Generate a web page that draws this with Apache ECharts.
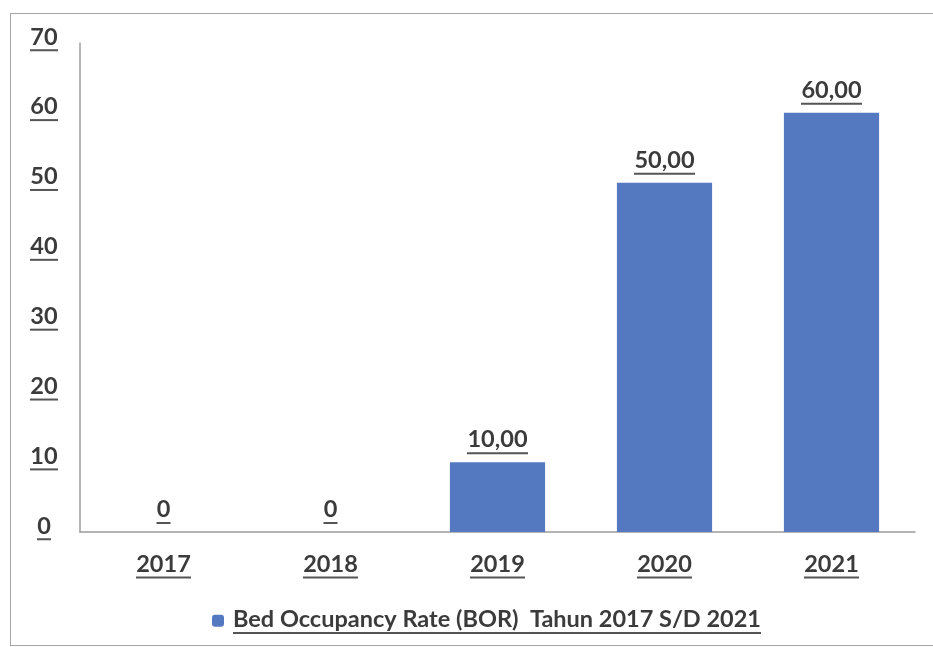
<!DOCTYPE html>
<html>
<head>
<meta charset="utf-8">
<script src="https://cdn.jsdelivr.net/npm/echarts@6/dist/echarts.min.js"></script>
<style>
  html, body { margin: 0; padding: 0; background: #fff; }
  #frame { position: absolute; left: 10px; top: 13px; width: 960px; height: 631px; border: 1.5px solid #a4a4a4; border-right: none; }
  #chart { position: absolute; left: 0; top: 0; width: 933px; height: 647px; }
</style>
</head>
<body>
<div id="frame"></div>
<div id="chart"></div>
<script>
// Bed Occupancy Rate per year
const years = ['2017', '2018', '2019', '2020', '2021'];
const borValues = [0, 0, 10, 50, 60];
const seriesName = 'Bed Occupancy Rate (BOR)  Tahun 2017 S/D 2021';
const yTicks = [0, 10, 20, 30, 40, 50, 60, 70];

const textColor = '#3b3b3b';
const barColor = '#5479c0';
const fontFamily = 'Lato';
const labelSize = 23.5;
const legendSize = 23.5;

// Underlined text: each distinct string gets its own rule style sized to the measured text width
const measureCtx = document.createElement('canvas').getContext('2d');
const rich = {};
const styleKeys = {};
let keyCount = 0;
function underlined(s, size) {
  const id = size + '|' + s;
  if (!styleKeys[id]) {
    const k = 'k' + (keyCount++);
    styleKeys[id] = k;
    measureCtx.font = 'bold ' + size + 'px ' + fontFamily;
    const w = Math.ceil(measureCtx.measureText(s).width);
    rich['t' + k] = { fontSize: size, fontWeight: 'bold', color: textColor, fontFamily: fontFamily, lineHeight: size + 1 };
    rich['u' + k] = { width: w, height: 2, lineHeight: 2, backgroundColor: '#555555' };
  }
  const k = styleKeys[id];
  return '{t' + k + '|' + s + '}\n{u' + k + '|}';
}

// pre-register every string so the shared rich map is complete before rendering
const valueText = v => v === 0 ? '0' : v.toFixed(2).replace('.', ',');
years.forEach(y => underlined(y, labelSize));
yTicks.forEach(v => underlined(String(v), labelSize));
borValues.forEach(v => underlined(valueText(v), labelSize));
underlined(seriesName, legendSize);

const chart = echarts.init(document.getElementById('chart'));
chart.setOption({
  animation: false,
  backgroundColor: 'transparent',
  grid: { left: 80, right: 18, top: 43, bottom: 115 },
  legend: {
    bottom: 3,
    left: 207,
    itemWidth: 12,
    itemHeight: 12,
    itemGap: 6,
    formatter: name => underlined(name, legendSize),
    textStyle: { rich: rich, padding: [0, 0, 0, 4] },
    data: [seriesName]
  },
  xAxis: {
    type: 'category',
    data: years,
    axisLine: { lineStyle: { color: '#9c9c9c', width: 1.5 } },
    axisTick: { show: false },
    axisLabel: { margin: 20, formatter: v => underlined(v, labelSize), rich: rich }
  },
  yAxis: {
    type: 'value',
    min: 0,
    max: 70,
    interval: 10,
    splitLine: { show: false },
    axisLine: { show: true, lineStyle: { color: '#9c9c9c', width: 1.5 } },
    axisTick: { show: false },
    axisLabel: {
      margin: 36,
      align: 'center',
      padding: [0, 0, 10, 0],
      formatter: v => underlined(String(v), labelSize),
      rich: rich
    }
  },
  series: [{
    name: seriesName,
    type: 'bar',
    data: borValues,
    barCategoryGap: '43%',
    itemStyle: { color: barColor },
    label: {
      show: true,
      position: 'top',
      distance: 8,
      formatter: p => underlined(valueText(p.value), labelSize),
      rich: rich
    }
  }]
});
</script>
</body>
</html>
